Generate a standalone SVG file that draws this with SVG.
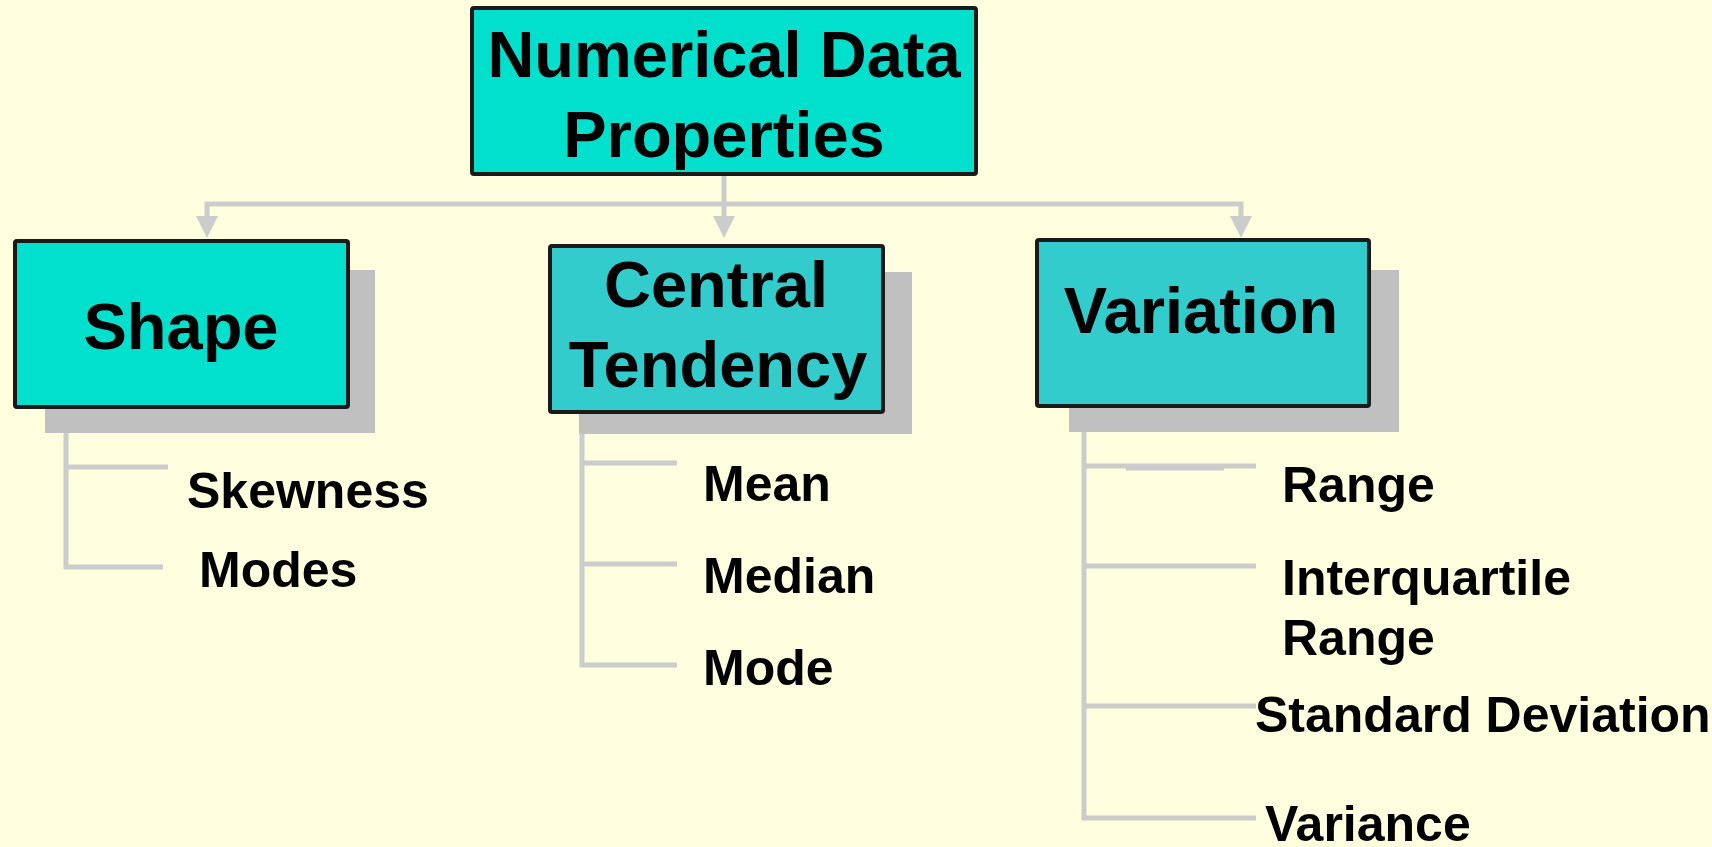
<svg xmlns="http://www.w3.org/2000/svg" width="1712" height="847" viewBox="0 0 1712 847">
<defs>
<style>
.bg{fill:#FFFFE0}
.box{stroke:#1a1a1a;stroke-width:4}
.b1{fill:#00E0CC}
.b2{fill:#33CCCC}
.shadow{fill:#C0C0C0}
.hd{font-family:"Liberation Sans",Arial,sans-serif;font-weight:bold;font-size:65px;fill:#000;text-anchor:middle}
.it{font-family:"Liberation Sans",Arial,sans-serif;font-weight:bold;font-size:50px;fill:#000}
.cn{fill:none;stroke:#CCCCCC;stroke-width:5}
.ah{fill:#CCCCCC}
</style>
</defs>
<rect class="bg" x="0" y="0" width="1712" height="847"/>
<g id="connectors">
<path class="cn" d="M207,218 V204 H1241 V218"/>
<path class="cn" d="M724,175 V218"/>
<polygon class="ah" points="196,216 218,216 207,238"/>
<polygon class="ah" points="713,216 735,216 724,238"/>
<polygon class="ah" points="1230,216 1252,216 1241,238"/>
<path class="cn" d="M66,408 V567 H163 M66,467 H168"/>
<path class="cn" d="M582,413 V665 H677 M582,463 H677 M582,564 H677"/>
<path class="cn" d="M1084,407 V818 H1256 M1084,466 H1256 M1084,566 H1256 M1084,706 H1256"/>
<path class="cn" d="M1126,468 H1224"/>
</g>
<g id="root">
<rect class="box b1" x="472" y="8" width="504" height="166" rx="2"/>
<text class="hd" x="724" y="77">Numerical Data</text>
<text class="hd" x="724" y="157">Properties</text>
</g>
<g id="shape">
<rect class="shadow" x="45" y="270" width="330" height="163"/>
<rect class="box b1" x="15" y="241" width="333" height="166" rx="2"/>
<text class="hd" x="181" y="349">Shape</text>
</g>
<g id="central">
<rect class="shadow" x="579" y="272" width="333" height="162"/>
<rect class="box b2" x="550" y="246" width="333" height="166" rx="2"/>
<text class="hd" x="716" y="307">Central</text>
<text class="hd" x="718" y="387">Tendency</text>
</g>
<g id="variation">
<rect class="shadow" x="1069" y="270" width="330" height="162"/>
<rect class="box b2" x="1037" y="240" width="332" height="166" rx="2"/>
<text class="hd" x="1201" y="333">Variation</text>
</g>
<g id="shape-items">
<text class="it" x="187" y="508">Skewness</text>
<text class="it" x="199" y="587">Modes</text>
</g>
<g id="central-items">
<text class="it" x="703" y="501">Mean</text>
<text class="it" x="703" y="593">Median</text>
<text class="it" x="703" y="685">Mode</text>
</g>
<g id="variation-items">
<text class="it" x="1282" y="502">Range</text>
<text class="it" x="1282" y="595">Interquartile</text>
<text class="it" x="1282" y="655">Range</text>
<text class="it" x="1255" y="732">Standard Deviation</text>
<text class="it" x="1265" y="841">Variance</text>
</g>
</svg>
